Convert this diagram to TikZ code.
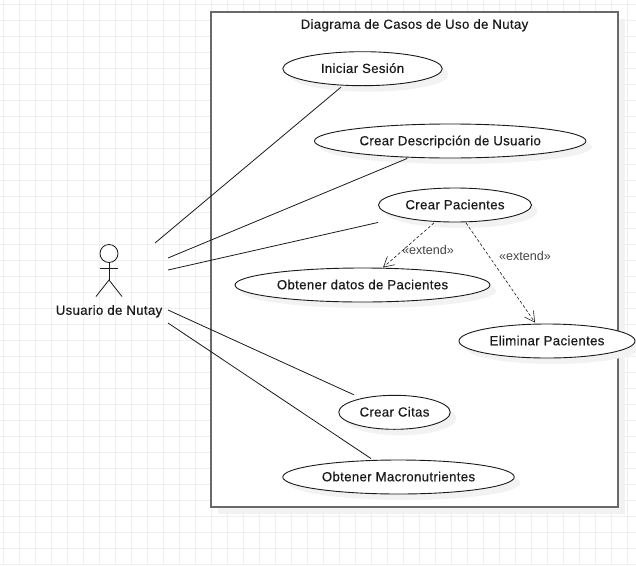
\documentclass[tikz,border=0pt]{standalone}
\usepackage{fontspec}
\setmainfont{Liberation Sans}
\newfontfamily\uifont[LetterSpace=2.6,FakeBold=0.4]{Liberation Sans}
\usetikzlibrary{shapes.geometric,shadows,arrows.meta,calc}
\definecolor{gridc}{HTML}{EFEFEF}
\definecolor{shadc}{HTML}{F2F2F2}
\definecolor{framec}{HTML}{696969}
\definecolor{inkc}{HTML}{1A1A1A}
\definecolor{labc}{HTML}{444444}
\tikzset{
  x=1pt,y=-1pt,
  gridline/.style={gridc,line width=1pt},
  usecase/.style={ellipse,draw=inkc,line width=0.9pt,fill=white,inner sep=0pt,font=\uifont\fontsize{13.2}{15}\selectfont,text=inkc,
     text height=9.5pt,text depth=1pt,
     drop shadow={shadow xshift=6pt,shadow yshift=-6pt,fill=shadc,opacity=1}},
  boundary/.style={rectangle,draw=framec,line width=1.5pt,fill=white,inner sep=0pt,
     drop shadow={shadow xshift=7pt,shadow yshift=-7pt,fill=shadc,opacity=1}},
  assoc/.style={inkc,line width=0.8pt},
  extendline/.style={inkc,line width=0.6pt,dash pattern=on 3pt off 2pt,-{Straight Barb[length=10pt,width=11pt,line width=0.6pt]}},
  extendlabel/.style={font=\fontsize{12.6}{14}\selectfont,text=labc,inner sep=0pt},
  plainlabel/.style={font=\uifont\fontsize{13.2}{15}\selectfont,text=inkc,inner sep=0pt,text height=9.5pt,text depth=1pt},
  stick/.style={inkc,line width=0.8pt}
}
\begin{document}
\begin{tikzpicture}
\useasboundingbox (0,0) rectangle (636,565);
\fill[white] (0,0) rectangle (636,565);
\foreach \k in {0,...,39}{\draw[gridline] (3.8+16*\k,0) -- (3.8+16*\k,565);}
\foreach \k in {0,...,35}{\draw[gridline] (0,4.2+16*\k) -- (636,4.2+16*\k);}

\node[boundary,minimum width=407pt,minimum height=495pt] (sys) at (414.5,259.5) {};
\node[plainlabel] (title) at (414.5,24.5) {Diagrama de Casos de Uso de Nutay};

\node[usecase,minimum width=159.5pt,minimum height=34pt] (ini) at (362.5,68.7) {Iniciar Sesión};
\node[usecase,minimum width=271.5pt,minimum height=34pt] (desc) at (450.2,141) {Crear Descripción de Usuario};
\node[usecase,minimum width=153pt,minimum height=34pt] (pac) at (455,205) {Crear Pacientes};
\node[usecase,minimum width=255pt,minimum height=34pt] (dat) at (362.5,285) {Obtener datos de Pacientes};
\node[usecase,minimum width=176pt,minimum height=34pt] (eli) at (547,341) {Eliminar Pacientes};
\node[usecase,minimum width=111.5pt,minimum height=34pt] (cit) at (394.5,412.3) {Crear Citas};
\node[usecase,minimum width=231.5pt,minimum height=34pt] (mac) at (398.5,477) {Obtener Macronutrientes};

% actor
\node[circle,draw=inkc,line width=0.8pt,minimum size=18pt,inner sep=0pt] (head) at (109,253.5) {};
\coordinate (hip) at (109,280);
\coordinate (armL) at (100,268.5);
\coordinate (armR) at (118,268.5);
\coordinate (legL) at (96,296.5);
\coordinate (legR) at (122,296.5);
\draw[stick] (head.south) -- (hip);
\draw[stick] (armL) -- (armR);
\draw[stick] (legL) -- (hip) -- (legR);
\node[plainlabel] (actor) at (109,310.5) {Usuario de Nutay};

% free ends beside the actor
\coordinate (a1) at (155,243);
\coordinate (a2) at (168,258);
\coordinate (a3) at (168,270);
\coordinate (a4) at (168,310);
\coordinate (a5) at (168,323);

\draw[assoc] (a1) -- ($(ini.south)+(-21.5,1)$);
\draw[assoc] (a2) -- ($(desc.south)+(-43,0)$);
\draw[assoc] (a3) -- (pac.west |- pac.south);
\draw[assoc] (a4) -- ($(cit.north)+(-40.5,0)$);
\draw[assoc] (a5) -- ($(mac.north)+(-27.5,-1)$);

\draw[extendline] ($(pac.south)+(-21,0.5)$) -- ($(dat.north)+(20.5,0)$);
\draw[extendline] ($(pac.south)+(11,0.5)$) -- ($(eli.north)+(-12,-1)$);
\node[extendlabel] (l1) at (428,250) {«extend»};
\node[extendlabel] (l2) at (525,256) {«extend»};
\end{tikzpicture}
\end{document}
